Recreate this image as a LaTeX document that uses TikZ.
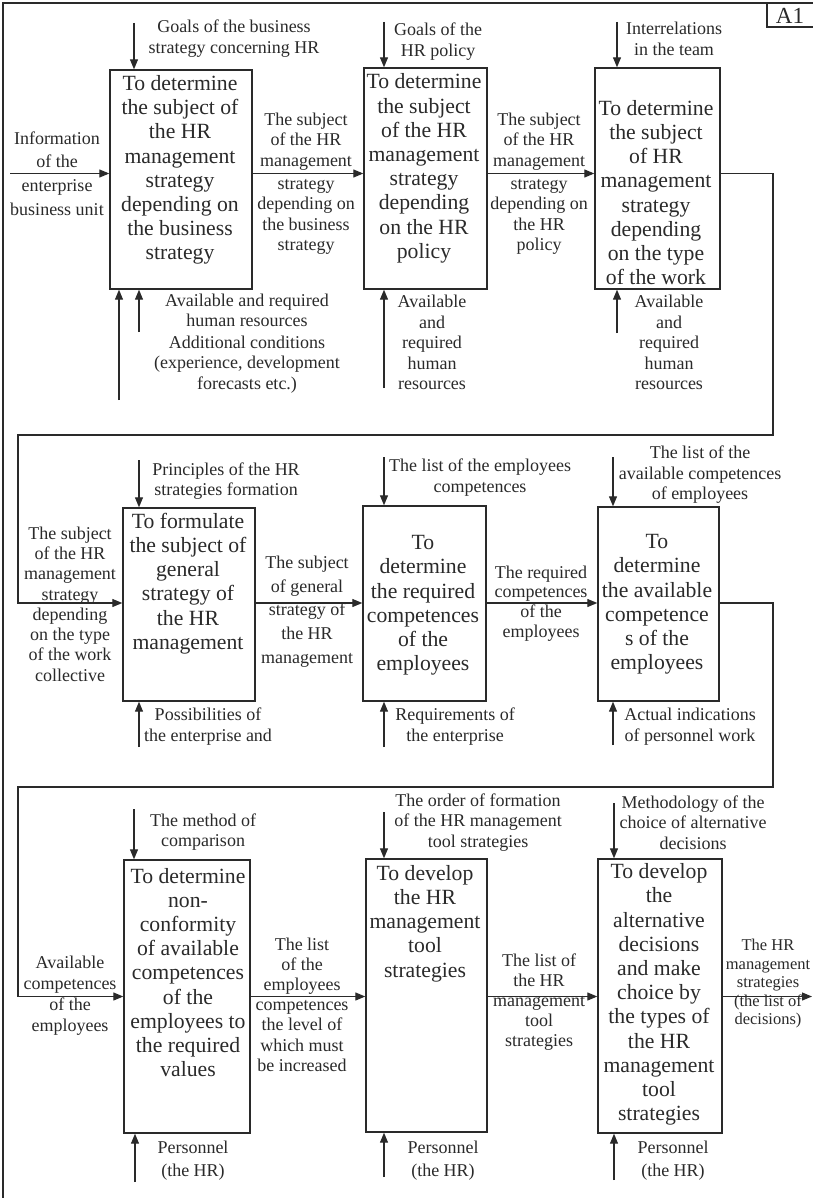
\documentclass[tikz,border=0pt]{standalone}
\usepackage{fontspec}
\setmainfont{Liberation Serif}
\usetikzlibrary{arrows.meta}
\definecolor{ink}{HTML}{2A2A2A}
\begin{document}
\begin{tikzpicture}[x=1pt,y=-1pt,
  proc/.style={draw=ink, line width=1.4pt, rectangle, inner sep=0pt},
  boxtext/.style={text=ink, align=center, inner sep=0pt, font=\fontsize{21.7}{24.2}\selectfont},
  lbl/.style={text=ink, align=center, inner sep=0pt, font=\fontsize{18}{20.5}\selectfont},
  flow/.style={draw=ink, line width=1.2pt, -{Triangle[length=10pt,width=8pt]}},
  wire/.style={draw=ink, line width=1.2pt}]

\fill[white] (0,0) rectangle (812,1198);
\useasboundingbox (0,0) rectangle (812,1198);

% sheet frame and sheet number
\coordinate (fbl) at (3,1200);
\coordinate (ftl) at (3,3);
\coordinate (ftr) at (814,3);
\draw[wire] (fbl) -- (ftl) -- (ftr);
\coordinate (a1c) at (767,27);
\draw[wire] (815,27) -- (a1c) -- (767,3);
\node[text=ink, inner sep=0pt, font=\fontsize{23}{26}\selectfont] (a1) at (790,15.5) {A1};

% ---------- process boxes ----------
\node[proc, minimum width=142pt, minimum height=219pt] (b1) at (181,179.5) {};
\node[proc, minimum width=123pt, minimum height=221pt] (b2) at (425.5,178.5) {};
\node[proc, minimum width=125pt, minimum height=221pt] (b3) at (657.5,178.5) {};
\node[proc, minimum width=132pt, minimum height=193pt] (b4) at (189,604.5) {};
\node[proc, minimum width=123pt, minimum height=195pt] (b5) at (424.5,603.5) {};
\node[proc, minimum width=121pt, minimum height=194pt] (b6) at (658.5,604) {};
\node[proc, minimum width=126pt, minimum height=273pt] (b7) at (187,996.5) {};
\node[proc, minimum width=121pt, minimum height=273pt] (b8) at (426.5,995.5) {};
\node[proc, minimum width=124pt, minimum height=274pt] (b9) at (660,996) {};

% ---------- box texts ----------
\node[boxtext] (t1) at (180,170) {To determine\\the subject of\\the HR\\management\\strategy\\depending on\\the business\\strategy};
\node[boxtext] (t2) at (424,168.5) {To determine\\the subject\\of the HR\\management\\strategy\\depending\\on the HR\\policy};
\node[boxtext] (t3) at (656,192.5) {To determine\\the subject\\of HR\\management\\strategy\\depending\\on the type\\of the work};
\node[boxtext] (t4) at (188,583.5) {To formulate\\the subject of\\general\\strategy of\\the HR\\management};
\node[boxtext] (t5) at (423,605.5) {To\\determine\\the required\\competences\\of the\\employees};
\node[boxtext] (t6) at (657,604.5) {To\\determine\\the available\\competence\\s of the\\employees};
\node[boxtext] (t7) at (188,972.5) {To determine\\non-\\conformity\\of available\\competences\\of the\\employees to\\the required\\values};
\node[boxtext] (t8) at (425,923.5) {To develop\\the HR\\management\\tool\\strategies};
\node[boxtext] (t9) at (659,994.5) {To develop\\the\\alternative\\decisions\\and make\\choice by\\the types of\\the HR\\management\\tool\\strategies};

% ---------- flow levels ----------
\coordinate (r1) at (0,173.5);
\coordinate (r2) at (0,603);
\coordinate (r3) at (0,996.5);

% ---------- row 1 ----------
\coordinate (in1) at (10,173.5);
\draw[flow] (in1) -- (b1.west |- in1);
\node[lbl, font=\fontsize{18}{23.7}\selectfont] (li1) at (57,173.5) {Information\\of the\\enterprise\\business unit};

\draw[flow] (b1.east |- r1) -- (b2.west |- r1);
\node[lbl] (l12) at (306,183.5) {The subject\\of the HR\\management\\[2.5pt]strategy\\depending on\\the business\\strategy};

\draw[flow] (b2.east |- r1) -- (b3.west |- r1);
\node[lbl] (l23) at (539,183.5) {The subject\\of the HR\\management\\[2.5pt]strategy\\depending on\\the HR\\policy};

\coordinate (c1) at (134,23);
\draw[flow] (c1) -- (c1 |- b1.north);
\node[lbl] (lc1) at (234,38.5) {Goals of the business\\strategy concerning HR};
\coordinate (c2) at (384,22);
\draw[flow] (c2) -- (c2 |- b2.north);
\node[lbl] (lc2) at (438,41.5) {Goals of the\\HR policy};
\coordinate (c3) at (617,22);
\draw[flow] (c3) -- (c3 |- b3.north);
\node[lbl] (lc3) at (674,39) {Interrelations\\in the team};

\coordinate (m1a) at (119,400);
\draw[flow] (m1a) -- (m1a |- b1.south);
\coordinate (m1b) at (139,332);
\draw[flow] (m1b) -- (m1b |- b1.south);
\node[lbl] (lm1a) at (247,310.5) {Available and required\\human resources};
\node[lbl] (lm1b) at (247,364.5) {Additional conditions\\(experience, development\\forecasts etc.)};
\coordinate (m2) at (384,388);
\draw[flow] (m2) -- (m2 |- b2.south);
\node[lbl] (lm2) at (432,342.5) {Available\\and\\required\\human\\resources};
\coordinate (m3) at (617,333);
\draw[flow] (m3) -- (m3 |- b3.south);
\node[lbl] (lm3) at (669,342.5) {Available\\and\\required\\human\\resources};

% ---------- row 1 to row 2 ----------
\coordinate (k1) at (773,435);
\coordinate (k2) at (18,435);
\draw[flow] (b3.east |- r1) -| (k1) -- (k2) |- (b4.west |- r2);
\node[lbl, font=\fontsize{18}{20.3}\selectfont] (li4) at (70,604) {The subject\\of the HR\\management\\strategy\\depending\\on the type\\of the work\\collective};

% ---------- row 2 ----------
\draw[flow] (b4.east |- r2) -- (b5.west |- r2);
\node[lbl, font=\fontsize{18}{23.7}\selectfont] (l45) at (307,611.5) {The subject\\of general\\strategy of\\the HR\\management};
\draw[flow] (b5.east |- r2) -- (b6.west |- r2);
\node[lbl, font=\fontsize{18}{19.7}\selectfont] (l56) at (541,603.5) {The required\\competences\\of the\\employees};

\coordinate (c4) at (139,460);
\draw[flow] (c4) -- (c4 |- b4.north);
\node[lbl] (lc4) at (226,481) {Principles of the HR\\strategies formation};
\coordinate (c5) at (384,457);
\draw[flow] (c5) -- (c5 |- b5.north);
\node[lbl] (lc5) at (480,477.5) {The list of the employees\\competences};
\coordinate (c6) at (613,457);
\draw[flow] (c6) -- (c6 |- b6.north);
\node[lbl] (lc6) at (700,475) {The list of the\\available competences\\of employees};

\coordinate (m4) at (139,747);
\draw[flow] (m4) -- (m4 |- b4.south);
\node[lbl] (lm4) at (208,726.5) {Possibilities of\\the enterprise and};
\coordinate (m5) at (384,747);
\draw[flow] (m5) -- (m5 |- b5.south);
\node[lbl] (lm5) at (455,726.5) {Requirements of\\the enterprise};
\coordinate (m6) at (613,745);
\draw[flow] (m6) -- (m6 |- b6.south);
\node[lbl] (lm6) at (690,726.5) {Actual indications\\of personnel work};

% ---------- row 2 to row 3 ----------
\coordinate (k3) at (773,787);
\coordinate (k4) at (18,787);
\draw[flow] (b6.east |- r2) -| (k3) -- (k4) |- (b7.west |- r3);
\node[lbl, font=\fontsize{18}{21}\selectfont] (li7) at (70,996) {Available\\competences\\of the\\employees};

% ---------- row 3 ----------
\draw[flow] (b7.east |- r3) -- (b8.west |- r3);
\node[lbl, font=\fontsize{18}{20.2}\selectfont] (l78) at (302,1004.5) {The list\\of the\\employees\\competences\\the level of\\which must\\be increased};
\draw[flow] (b8.east |- r3) -- (b9.west |- r3);
\node[lbl, font=\fontsize{18}{20}\selectfont] (l89) at (539,1002) {The list of\\the HR\\management\\tool\\strategies};
\coordinate (out9) at (812,996.5);
\draw[flow] (b9.east |- out9) -- (out9);
\node[lbl, font=\fontsize{16.5}{18.5}\selectfont] (lo9) at (768,984) {The HR\\management\\strategies\\(the list of\\decisions)};

\coordinate (c7) at (134,809);
\draw[flow] (c7) -- (c7 |- b7.north);
\node[lbl] (lc7) at (203,832) {The method of\\comparison};
\coordinate (c8) at (384,812);
\draw[flow] (c8) -- (c8 |- b8.north);
\node[lbl] (lc8) at (478,822.5) {The order of formation\\of the HR management\\tool strategies};
\coordinate (c9) at (614,803);
\draw[flow] (c9) -- (c9 |- b9.north);
\node[lbl] (lc9) at (693,822.5) {Methodology of the\\choice of alternative\\decisions};

\coordinate (m7) at (135,1182);
\draw[flow] (m7) -- (m7 |- b7.south);
\node[lbl, font=\fontsize{18}{23}\selectfont] (lm7) at (193,1160.5) {Personnel\\(the HR)};
\coordinate (m8) at (384,1177);
\draw[flow] (m8) -- (m8 |- b8.south);
\node[lbl, font=\fontsize{18}{23}\selectfont] (lm8) at (443,1160.5) {Personnel\\(the HR)};
\coordinate (m9) at (614,1180);
\draw[flow] (m9) -- (m9 |- b9.south);
\node[lbl, font=\fontsize{18}{23}\selectfont] (lm9) at (673,1160.5) {Personnel\\(the HR)};

\end{tikzpicture}
\end{document}
